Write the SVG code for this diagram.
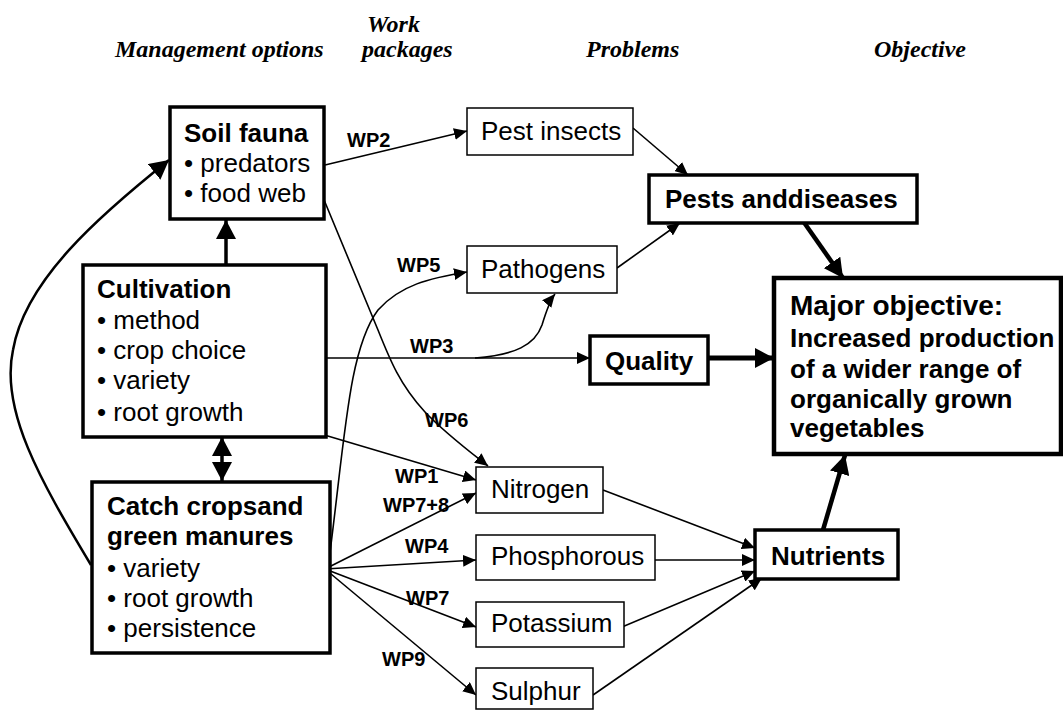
<svg xmlns="http://www.w3.org/2000/svg" width="1063" height="711" viewBox="0 0 1063 711">
<style>
text{font-family:"Liberation Sans",Arial,sans-serif;fill:#000}
.h{font-family:"Liberation Serif","Times New Roman",serif;font-weight:bold;font-style:italic;font-size:24px}
.t{font-size:26px}
.b{font-size:26px;font-weight:bold}
.wp{font-size:20px;font-weight:bold}
.thin{fill:#fff;stroke:#000;stroke-width:1.5}
.thick{fill:#fff;stroke:#000;stroke-width:3.5}
.c{fill:none;stroke:#000;stroke-width:1.6}
.ck{fill:none;stroke:#000;stroke-width:3.5}
</style>
<defs>
<marker id="a" markerUnits="userSpaceOnUse" markerWidth="14" markerHeight="12" refX="13" refY="6" orient="auto"><path d="M0,0 L13,6 L0,12 z" fill="#000"/></marker>
<marker id="k" markerUnits="userSpaceOnUse" markerWidth="20" markerHeight="20" refX="19" refY="10" orient="auto"><path d="M0,0 L19,10 L0,20 z" fill="#000"/></marker>
<marker id="ks" markerUnits="userSpaceOnUse" markerWidth="20" markerHeight="20" refX="1" refY="10" orient="auto"><path d="M19,0 L0,10 L19,20 z" fill="#000"/></marker>
</defs>
<rect width="1063" height="711" fill="#fff"/>
<g id="headers">
<text class="h" x="115" y="57">Management options</text>
<text class="h" x="367" y="32">Work</text>
<text class="h" x="362" y="57">packages</text>
<text class="h" x="586" y="57">Problems</text>
<text class="h" x="874" y="57">Objective</text>
</g>
<g id="connectors">
<line class="ck" x1="226" y1="265" x2="226" y2="220" marker-end="url(#k)"/>
<line class="ck" x1="222" y1="438" x2="222" y2="481" marker-start="url(#ks)" marker-end="url(#k)"/>
<path class="c" style="stroke-width:2.5" d="M 91 565 C 40 480, 0 410, 13 350 C 25 280, 100 215, 169 160" marker-end="url(#k)"/>
<line class="c" x1="325" y1="165" x2="467" y2="131" marker-end="url(#a)"/>
<line class="c" x1="633" y1="128" x2="688" y2="175" marker-end="url(#a)"/>
<line class="c" x1="617" y1="268" x2="680" y2="223" marker-end="url(#a)"/>
<line class="ck" style="stroke-width:4.5" x1="803" y1="221" x2="843" y2="278" marker-end="url(#k)"/>
<line class="ck" style="stroke-width:5" x1="708" y1="358" x2="774" y2="358" marker-end="url(#k)"/>
<line class="ck" style="stroke-width:4.5" x1="823" y1="530" x2="845" y2="455" marker-end="url(#k)"/>
<path class="c" d="M 328 568 C 345 440, 348 350, 378 310 C 400 285, 430 278, 467 272" marker-end="url(#a)"/>
<path class="c" d="M 322 195 L 378 330 C 390 360, 400 385, 425 412 C 445 433, 465 448, 488 466" marker-end="url(#a)"/>
<line class="c" x1="257" y1="415" x2="476" y2="480" marker-end="url(#a)"/>
<line class="c" x1="325" y1="569" x2="476" y2="493" marker-end="url(#a)"/>
<line class="c" x1="325" y1="569" x2="476" y2="560" marker-end="url(#a)"/>
<line class="c" x1="325" y1="569" x2="476" y2="627" marker-end="url(#a)"/>
<line class="c" x1="325" y1="569" x2="476" y2="695" marker-end="url(#a)"/>
<path class="c" d="M 247 330 C 275 330, 290 355, 318 358"/>
<path class="c" d="M 240 384 C 270 384, 290 360, 318 358"/>
<line class="c" x1="255" y1="358" x2="590" y2="358" marker-end="url(#a)"/>
<path class="c" d="M 475 358 C 515 355, 535 345, 542 325 C 546 312, 550 300, 555 294" marker-end="url(#a)"/>
<line class="c" x1="603" y1="490" x2="755" y2="548" marker-end="url(#a)"/>
<line class="c" x1="655" y1="560" x2="755" y2="560" marker-end="url(#a)"/>
<line class="c" x1="622" y1="627" x2="755" y2="571" marker-end="url(#a)"/>
<line class="c" x1="593" y1="695" x2="762" y2="578" marker-end="url(#a)"/>
<text class="wp" x="347" y="147">WP2</text>
<text class="wp" x="397" y="272">WP5</text>
<text class="wp" x="410" y="353">WP3</text>
<text class="wp" x="425" y="427">WP6</text>
<text class="wp" x="395" y="483">WP1</text>
<text class="wp" x="383" y="512">WP7+8</text>
<text class="wp" x="405" y="553">WP4</text>
<text class="wp" x="406" y="605">WP7</text>
<text class="wp" x="382" y="666">WP9</text>
</g>
<g id="soil-fauna">
<rect class="thick" x="170" y="107" width="154" height="112"/>
<text class="b" x="184" y="142">Soil fauna</text>
<text class="t" x="184" y="172">• predators</text>
<text class="t" x="184" y="202">• food web</text>
</g>
<g id="cultivation">
<rect class="thick" x="83" y="265" width="243" height="172"/>
<text class="b" x="97" y="298">Cultivation</text>
<text class="t" x="97" y="329">• method</text>
<text class="t" x="97" y="359">• crop choice</text>
<text class="t" x="97" y="389">• variety</text>
<text class="t" x="97" y="421">• root growth</text>
</g>
<g id="catch-crops">
<rect class="thick" x="92" y="482" width="238" height="171"/>
<text class="b" x="107" y="515">Catch cropsand</text>
<text class="b" x="107" y="545">green manures</text>
<text class="t" x="107" y="577">• variety</text>
<text class="t" x="107" y="607">• root growth</text>
<text class="t" x="107" y="637">• persistence</text>
</g>
<g id="pest-insects">
<rect class="thin" x="467" y="108" width="166" height="47"/>
<text class="t" x="481" y="140">Pest insects</text>
</g>
<g id="pathogens">
<rect class="thin" x="467" y="246" width="150" height="47"/>
<text class="t" x="481" y="278">Pathogens</text>
</g>
<g id="pests-diseases">
<rect class="thick" x="649" y="175" width="268" height="48"/>
<text class="b" x="665" y="208">Pests anddiseases</text>
</g>
<g id="quality">
<rect class="thick" x="590" y="336" width="118" height="48"/>
<text class="b" x="605" y="370">Quality</text>
</g>
<g id="major-objective">
<rect class="thick" style="stroke-width:4.5" x="774" y="278" width="287" height="176"/>
<text class="b" style="font-size:28px" x="790" y="315">Major objective:</text>
<text class="b" x="790" y="347">Increased production</text>
<text class="b" x="790" y="378">of a wider range of</text>
<text class="b" x="790" y="408">organically grown</text>
<text class="b" x="790" y="437">vegetables</text>
</g>
<g id="nitrogen">
<rect class="thin" x="476" y="467" width="127" height="46"/>
<text class="t" x="491" y="498">Nitrogen</text>
</g>
<g id="phosphorous">
<rect class="thin" x="476" y="535" width="179" height="45"/>
<text class="t" x="491" y="565">Phosphorous</text>
</g>
<g id="potassium">
<rect class="thin" x="476" y="602" width="148" height="45"/>
<text class="t" x="491" y="632">Potassium</text>
</g>
<g id="sulphur">
<rect class="thin" x="476" y="668" width="117" height="41"/>
<text class="t" x="491" y="700">Sulphur</text>
</g>
<g id="nutrients">
<rect class="thick" x="755" y="530" width="143" height="49"/>
<text class="b" x="771" y="565">Nutrients</text>
</g>
</svg>
